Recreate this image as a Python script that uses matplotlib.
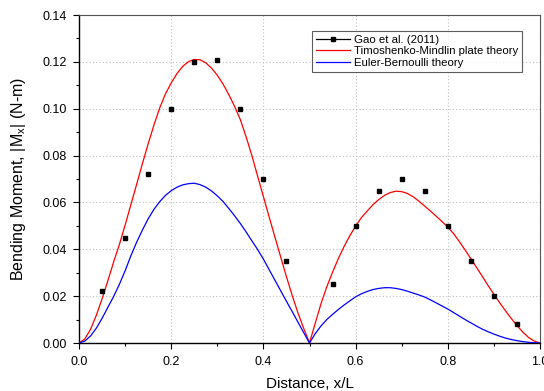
import matplotlib
matplotlib.use("Agg")
import matplotlib.pyplot as plt
from matplotlib.lines import Line2D
from matplotlib.ticker import MultipleLocator

plt.rcParams['font.family'] = ['Liberation Sans', 'DejaVu Sans']
plt.rcParams['mathtext.fontset'] = 'custom'
plt.rcParams['mathtext.rm'] = 'Liberation Sans'
plt.rcParams['mathtext.it'] = 'Liberation Sans'

# Gao et al. (2011) measured points
gao_x = [0.05, 0.10, 0.15, 0.20, 0.25, 0.30, 0.35, 0.40, 0.45,
         0.55, 0.60, 0.65, 0.70, 0.75, 0.80, 0.85, 0.90, 0.95]
gao_y = [0.022, 0.045, 0.072, 0.100, 0.120, 0.121, 0.100, 0.070, 0.035,
         0.025, 0.050, 0.065, 0.070, 0.065, 0.050, 0.035, 0.020, 0.008]

# sample positions along the plate at which the theory curves were read
dist = [i / 80 for i in range(81)]

# Timoshenko-Mindlin plate theory
tm_y = [0.0, 0.0017, 0.0058, 0.0118, 0.0188, 0.0265, 0.0345, 0.0420, 0.0503,
        0.0590, 0.0677, 0.0765, 0.0850, 0.0930, 0.1003, 0.1063, 0.1110, 0.1150,
        0.1181, 0.1201, 0.1210, 0.1209, 0.1196, 0.1173, 0.1143, 0.1105, 0.1060,
        0.1010, 0.0953, 0.0880, 0.0800, 0.0712, 0.0625, 0.0538, 0.0452, 0.0367,
        0.0283, 0.0203, 0.0128, 0.0062, 0.0,
        0.0085, 0.0168, 0.0240, 0.0302, 0.0360, 0.0412, 0.0458, 0.0499,
        0.0535, 0.0563, 0.0590, 0.0612, 0.0630, 0.0642, 0.0648, 0.0646,
        0.0638, 0.0624, 0.0605, 0.0584, 0.0563, 0.0541, 0.0518, 0.0495,
        0.0467, 0.0433, 0.0397, 0.0360, 0.0322, 0.0284, 0.0245, 0.0208,
        0.0172, 0.0138, 0.0105, 0.0075, 0.0047, 0.0024, 0.0008, 0.0]

# Euler-Bernoulli theory
eb_y = [0.0, 0.0008, 0.0030, 0.0063, 0.0105, 0.0152, 0.0198, 0.0250, 0.0308,
        0.0372, 0.0430, 0.0482, 0.0530, 0.0570, 0.0603, 0.0630, 0.0650, 0.0665,
        0.0675, 0.0680, 0.0682, 0.0676, 0.0665, 0.0649, 0.0628, 0.0604, 0.0574,
        0.0543, 0.0510, 0.0474, 0.0436, 0.0399, 0.0358, 0.0313, 0.0268, 0.0223,
        0.0178, 0.0134, 0.0089, 0.0044, 0.0,
        0.0040, 0.0073, 0.0100, 0.0122, 0.0143, 0.0162, 0.0180, 0.0197,
        0.0210, 0.0220, 0.0228, 0.0233, 0.0236, 0.0236, 0.0233, 0.0228,
        0.0221, 0.0213, 0.0205, 0.0196, 0.0184, 0.0171, 0.0158, 0.0145,
        0.0130, 0.0115, 0.0100, 0.0086, 0.0072, 0.0059, 0.0048, 0.0038,
        0.0029, 0.0021, 0.0015, 0.0010, 0.0006, 0.0003, 0.0001, 0.0]

fig = plt.figure(figsize=(5.44, 3.91), dpi=100)
ax = fig.add_axes([79/544, 48/391, 461/544, 328/391])

ax.plot(dist, tm_y, color='#ff0000', lw=0.9, zorder=3)
ax.plot(dist, eb_y, color='#0000ff', lw=0.9, zorder=3)
ax.plot(gao_x, gao_y, ls='none', marker='s', ms=3.2, color='black', zorder=4)

ax.set_xlim(0, 1.0)
ax.set_ylim(0, 0.14)
ax.xaxis.set_major_locator(MultipleLocator(0.2))
ax.xaxis.set_minor_locator(MultipleLocator(0.1))
ax.yaxis.set_major_locator(MultipleLocator(0.02))
ax.yaxis.set_minor_locator(MultipleLocator(0.01))
ax.set_xticklabels([f"{v:.1f}" for v in ax.get_xticks()])
ax.set_yticklabels([f"{v:.2f}" for v in ax.get_yticks()])
ax.tick_params(which='major', direction='out', length=4, width=0.8, labelsize=9)
ax.tick_params(axis='y', which='major', pad=5)
ax.tick_params(axis='x', which='major', pad=5.5)
ax.tick_params(which='minor', direction='out', length=2.2, width=0.8)
ax.grid(True, which='major', ls=(0, (1, 2)), color='#c0c0c0', lw=0.8)
ax.set_axisbelow(True)
for s in ['left', 'bottom']:
    ax.spines[s].set_linewidth(1.0)
for s in ['top', 'right']:
    ax.spines[s].set_linewidth(0.8)
    ax.spines[s].set_color('#555555')

ax.set_xlabel('Distance, x/L', fontsize=11, labelpad=6)
ax.set_ylabel(r'Bending Moment, |M$_{\mathregular{x}}$| (N-m)', fontsize=11.5, labelpad=10)

handles = [
    Line2D([], [], color='black', marker='s', ms=3.2, lw=0.9),
    Line2D([], [], color='#ff0000', lw=0.9),
    Line2D([], [], color='#0000ff', lw=0.9),
]
labels = ['Gao et al. (2011)', 'Timoshenko-Mindlin plate theory', 'Euler-Bernoulli theory']
leg = ax.legend(handles, labels, loc='upper right', bbox_to_anchor=(0.961, 0.951),
                fontsize=8.2, frameon=True, fancybox=False, handlelength=3.0,
                handletextpad=0.3, borderpad=0.35, labelspacing=0.12, borderaxespad=0)
leg.get_frame().set_edgecolor('#333333')
leg.get_frame().set_linewidth(0.8)

fig.savefig('out.png', dpi=100)
